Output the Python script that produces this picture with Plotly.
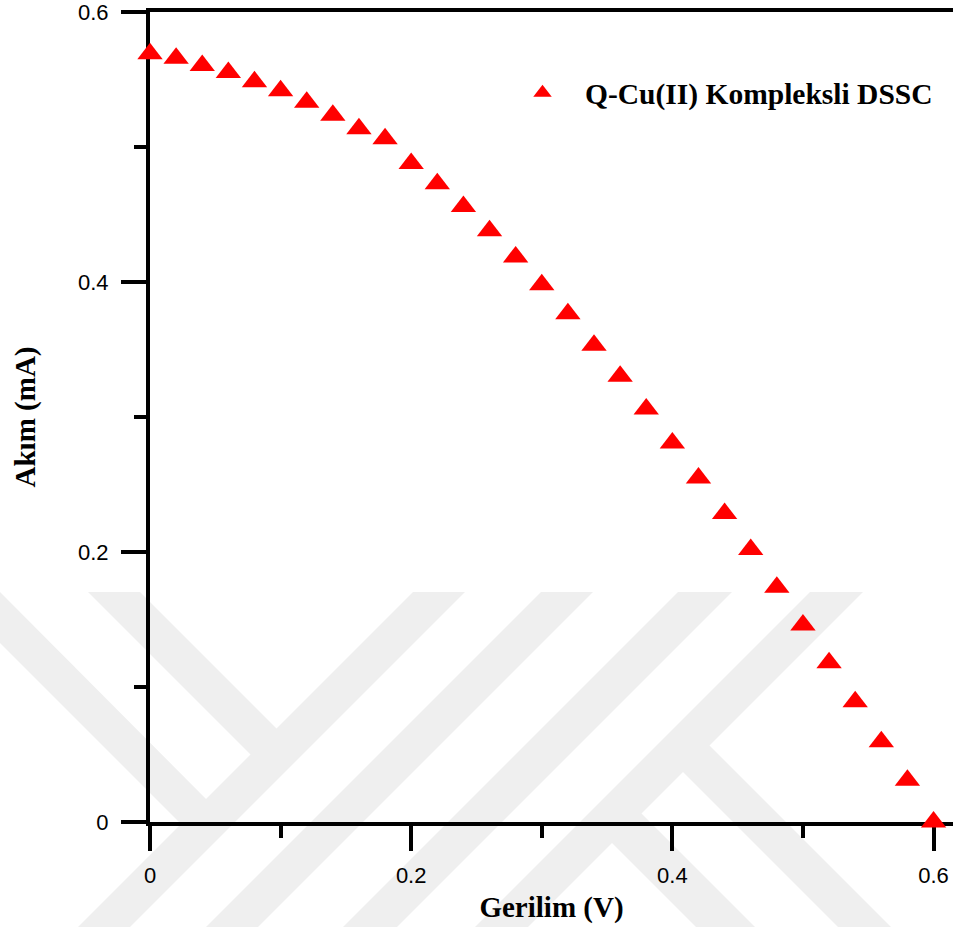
import plotly.graph_objects as go

# ---- data ----
voltage = [0.00, 0.02, 0.04, 0.06, 0.08, 0.10, 0.12, 0.14, 0.16, 0.18,
           0.20, 0.22, 0.24, 0.26, 0.28, 0.30, 0.32, 0.34, 0.36, 0.38,
           0.40, 0.42, 0.44, 0.46, 0.48, 0.50, 0.52, 0.54, 0.56, 0.58, 0.60]
current = [0.5690, 0.5658, 0.5603, 0.5551, 0.5483, 0.5417, 0.5331, 0.5235, 0.5135, 0.5061,
           0.4878, 0.4727, 0.4560, 0.4380, 0.4186, 0.3979, 0.3764, 0.3532, 0.3302, 0.3060,
           0.2808, 0.2549, 0.2285, 0.2018, 0.1738, 0.1460, 0.1179, 0.0890, 0.0595, 0.0309, 0.0000]
series_name = "Q-Cu(II) Kompleksli DSSC"
x_title = "Gerilim (V)"
y_title = "Akım (mA)"
x_ticks = [0, 0.2, 0.4, 0.6]
x_ticklabels = ["0", "0.2", "0.4", "0.6"]
y_ticks = [0, 0.2, 0.4, 0.6]
y_ticklabels = ["0", "0.2", "0.4", "0.6"]

# ---- figure geometry ----
W_FIG, H_FIG = 953, 927
ML, MR, MT, MB = 150, 0, 12, 105
PW = W_FIG - ML - MR
PH = H_FIG - MT - MB


def to_paper(px, py):
    return (px - ML) / PW, (MT + PH - py) / PH


# background watermark (decorative light-grey bands), in pixel coords
wm_polys = [
    [(413, 592), (465, 592), (130, 927), (78, 927)],
    [(541, 592), (593, 592), (258, 927), (206, 927)],
    [(678, 592), (732, 592), (397, 927), (343, 927)],
    [(810, 592), (863, 592), (528, 927), (475, 927)],
    [(88, 592), (140, 592), (289.5, 741.5), (263.5, 767.5)],
    [(0, 592), (219, 812), (194, 837), (0, 643)],
    [(696, 732), (891, 927), (838, 927), (669.5, 758.5)],
    [(628, 800), (755, 927), (696, 927), (598.5, 829.5)],
]
shapes = []
for poly in wm_polys:
    pts = [to_paper(px, py) for px, py in poly]
    path = "M " + " L ".join(f"{a:.5f},{b:.5f}" for a, b in pts) + " Z"
    shapes.append(dict(type="path", path=path, xref="paper", yref="paper",
                       fillcolor="#efefef", line=dict(width=0), layer="below"))

fig = go.Figure()
fig.add_trace(go.Scatter(
    x=voltage, y=current, mode="markers", name=series_name,
    marker=dict(symbol="triangle-up", size=22, color="#ff0000", line=dict(width=0)),
    cliponaxis=False,
))

tickfont = dict(family="Liberation Sans, Arial, sans-serif", size=22, color="#000000")
titlefont = dict(family="Liberation Serif, Times New Roman, serif", size=29, color="#000000", weight="bold")
legendfont = dict(family="Liberation Serif, Times New Roman, serif", size=29.5, color="#000000", weight="bold")

fig.update_layout(
    width=W_FIG, height=H_FIG,
    margin=dict(l=ML, r=MR, t=MT, b=MB, autoexpand=False),
    paper_bgcolor="#ffffff", plot_bgcolor="rgba(0,0,0,0)",
    shapes=shapes,
    showlegend=True,
    legend=dict(
        x=to_paper(500, 0)[0], y=to_paper(0, 93)[1], xanchor="left", yanchor="middle",
        font=legendfont, bgcolor="rgba(0,0,0,0)", borderwidth=0, itemwidth=75,
    ),
    xaxis=dict(
        range=[0, 0.6149], showgrid=False, zeroline=False,
        showline=True, linecolor="#000000", linewidth=4, mirror=True,
        ticks="outside", ticklen=25, tickwidth=4, tickcolor="#000000",
        tickvals=x_ticks, ticktext=x_ticklabels, tickfont=tickfont,
        ticklabelstandoff=6, ticklabeloverflow="allow",
        minor=dict(ticks="outside", ticklen=12, tickwidth=4, tickcolor="#000000",
                   dtick=0.1, tick0=0, showgrid=False),
        title=dict(text=x_title, font=titlefont, standoff=10),
        layer="below traces",
    ),
    yaxis=dict(
        range=[0, 0.6], showgrid=False, zeroline=False,
        showline=True, linecolor="#000000", linewidth=4, mirror=False,
        ticks="outside", ticklen=25, tickwidth=4, tickcolor="#000000",
        tickvals=y_ticks, ticktext=y_ticklabels, tickfont=tickfont,
        ticklabelstandoff=8, ticklabeloverflow="allow",
        minor=dict(ticks="outside", ticklen=12, tickwidth=4, tickcolor="#000000",
                   dtick=0.1, tick0=0, showgrid=False),
        title=dict(text=y_title, font=titlefont, standoff=35),
        layer="below traces",
    ),
)

fig.write_html("out.html")
